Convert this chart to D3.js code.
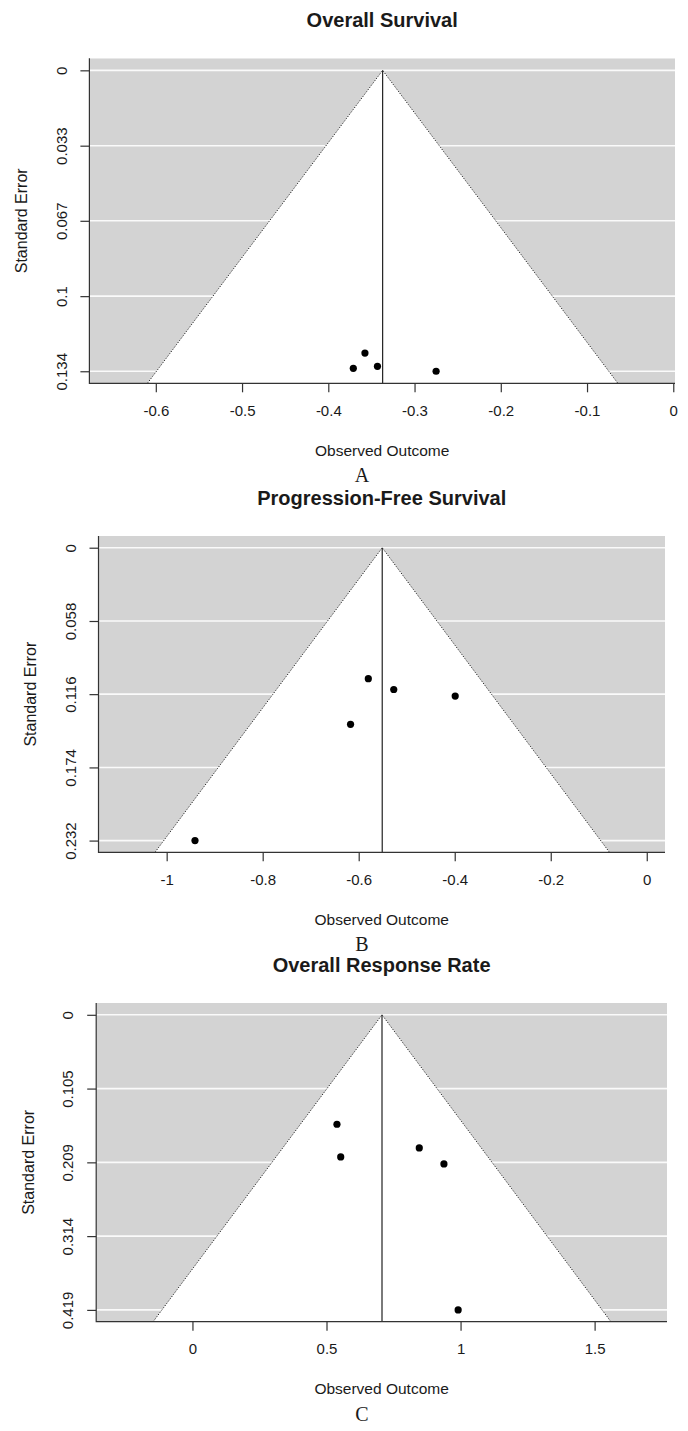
<!DOCTYPE html>
<html lang="en">
	<head>
		<meta charset="UTF-8" />
		<meta name="viewport" content="width=device-width, initial-scale=1.0" />
		<title>Funnel Plots</title>
		<style>
			body { margin: 0; background: #fff; }
			svg text { font-family: "Liberation Sans", Arial, sans-serif; fill: #1a1a1a; }
		</style>
	</head>
	<body>
		<div id="chart"></div>
		<script src="https://d3js.org/d3.v7.min.js"></script>
		<script>
			const width = 688;
			const height = 1431;

			// A - Overall Survival
			const osEstimate = -0.337;
			const osOutcome = [-0.3575, -0.371, -0.343, -0.275];
			const osSE = [0.1257, 0.1325, 0.1316, 0.1338];
			const osSETicks = [0, 0.0335, 0.0669, 0.1004, 0.1338];
			const osSELabels = ["0", "0.033", "0.067", "0.1", "0.134"];
			const osXTicks = [-0.6, -0.5, -0.4, -0.3, -0.2, -0.1, 0];
			const osXRange = [-0.677, 0.002];

			// B - Progression-Free Survival
			const pfsEstimate = -0.551;
			const pfsOutcome = [-0.58, -0.527, -0.399, -0.617, -0.941];
			const pfsSE = [0.1038, 0.1124, 0.1176, 0.14, 0.2322];
			const pfsSETicks = [0, 0.0581, 0.1161, 0.1742, 0.2322];
			const pfsSELabels = ["0", "0.058", "0.116", "0.174", "0.232"];
			const pfsXTicks = [-1, -0.8, -0.6, -0.4, -0.2, 0];
			const pfsXRange = [-1.142, 0.038];

			// C - Overall Response Rate
			const orrEstimate = 0.707;
			const orrOutcome = [0.539, 0.553, 0.846, 0.938, 0.991];
			const orrSE = [0.1553, 0.2017, 0.1889, 0.2116, 0.4188];
			const orrSETicks = [0, 0.1047, 0.2094, 0.3141, 0.4188];
			const orrSELabels = ["0", "0.105", "0.209", "0.314", "0.419"];
			const orrXTicks = [0, 0.5, 1, 1.5];
			const orrXRange = [-0.359, 1.77];

			const panels = [
				{ title: "Overall Survival", letter: "A", est: osEstimate, yi: osOutcome, sei: osSE,
					seTicks: osSETicks, seLabels: osSELabels, xTicks: osXTicks, xRange: osXRange,
					box: { left: 89.4, right: 675, top: 58.3, bottom: 383.3 } },
				{ title: "Progression-Free Survival", letter: "B", est: pfsEstimate, yi: pfsOutcome, sei: pfsSE,
					seTicks: pfsSETicks, seLabels: pfsSELabels, xTicks: pfsXTicks, xRange: pfsXRange,
					box: { left: 98.5, right: 665, top: 536, bottom: 852.3 } },
				{ title: "Overall Response Rate", letter: "C", est: orrEstimate, yi: orrOutcome, sei: orrSE,
					seTicks: orrSETicks, seLabels: orrSELabels, xTicks: orrXTicks, xRange: orrXRange,
					box: { left: 96.2, right: 667, top: 1003, bottom: 1321.7 } },
			];

			const svg = d3
				.select("#chart")
				.append("svg")
				.attr("width", width)
				.attr("height", height);

			panels.forEach(function (p, i) {
				const b = p.box;
				const maxSE = d3.max(p.seTicks);
				// R style 4% padding on the SE axis, reversed (0 on top)
				const y = d3
					.scaleLinear()
					.domain([-0.04 * maxSE, 1.04 * maxSE])
					.range([b.top, b.bottom]);
				const x = d3.scaleLinear().domain(p.xRange).range([b.left, b.right]);

				const g = svg.append("g");
				const clipId = "clip" + i;
				g.append("clipPath")
					.attr("id", clipId)
					.append("rect")
					.attr("x", b.left)
					.attr("y", b.top)
					.attr("width", b.right - b.left)
					.attr("height", b.bottom - b.top);

				const plot = g.append("g").attr("clip-path", "url(#" + clipId + ")");

				plot.append("rect")
					.attr("x", b.left)
					.attr("y", b.top)
					.attr("width", b.right - b.left)
					.attr("height", b.bottom - b.top)
					.attr("fill", "#d3d3d3");

				plot.selectAll(".hline")
					.data(p.seTicks)
					.enter()
					.append("line")
					.attr("x1", b.left)
					.attr("x2", b.right)
					.attr("y1", function (d) { return y(d); })
					.attr("y2", function (d) { return y(d); })
					.attr("stroke", "#fafafa")
					.attr("stroke-width", 1.6);

				const seBottom = y.domain()[1];
				const funnel = [
					[p.est - 1.96 * seBottom, seBottom],
					[p.est, 0],
					[p.est + 1.96 * seBottom, seBottom],
				];
				const line = d3
					.line()
					.x(function (d) { return x(d[0]); })
					.y(function (d) { return y(d[1]); });

				plot.append("path")
					.attr("d", line(funnel) + "Z")
					.attr("fill", "#fff");

				plot.append("path")
					.attr("d", line(funnel))
					.attr("fill", "none")
					.attr("stroke", "#222")
					.attr("stroke-width", 1)
					.attr("stroke-dasharray", "1.2,1.6");

				plot.append("line")
					.attr("x1", x(p.est))
					.attr("x2", x(p.est))
					.attr("y1", y(0))
					.attr("y2", b.bottom)
					.attr("stroke", "#222")
					.attr("stroke-width", 1.2);

				plot.selectAll(".pt")
					.data(p.yi)
					.enter()
					.append("circle")
					.attr("cx", function (d) { return x(d); })
					.attr("cy", function (d, j) { return y(p.sei[j]); })
					.attr("r", 3.6)
					.attr("fill", "#000");

				// bty = "l" box
				g.append("path")
					.attr("d", "M" + b.left + "," + b.top + "V" + b.bottom + "H" + b.right)
					.attr("fill", "none")
					.attr("stroke", "#333")
					.attr("stroke-width", 1.2);

				// x axis
				const xAxis = d3
					.axisBottom(x)
					.tickValues(p.xTicks)
					.tickSize(9)
					.tickPadding(13)
					.tickFormat(d3.format("~g"));
				const xg = g.append("g")
					.attr("transform", "translate(0," + b.bottom + ")")
					.call(xAxis);
				xg.select(".domain").remove();
				xg.selectAll(".tick line").attr("stroke", "#333").attr("stroke-width", 1.2);
				xg.selectAll(".tick text")
					.attr("fill", "#1a1a1a")
					.style("font-size", "15px")
					.style("font-family", "'Liberation Sans', Arial, sans-serif")
					.text(function (d) { return d3.format("~g")(d).replace("−", "-"); });

				// y axis
				const yAxis = d3
					.axisLeft(y)
					.tickValues(p.seTicks)
					.tickSize(9)
					.tickFormat(function (d, j) { return p.seLabels[j]; });
				const yg = g.append("g")
					.attr("transform", "translate(" + b.left + ",0)")
					.call(yAxis);
				yg.select(".domain").remove();
				yg.selectAll(".tick line").attr("stroke", "#333").attr("stroke-width", 1.2);
				yg.selectAll(".tick text")
					.attr("fill", "#1a1a1a")
					.attr("x", null)
					.attr("text-anchor", "middle")
					.attr("transform", "translate(-28,0) rotate(-90)")
					.attr("dy", "0.35em")
					.style("font-size", "15px")
					.style("font-family", "'Liberation Sans', Arial, sans-serif");

				const cx = (b.left + b.right) / 2;

				g.append("text")
					.attr("x", cx)
					.attr("y", b.top - 38)
					.attr("dy", "0.35em")
					.attr("text-anchor", "middle")
					.style("font-size", "20px")
					.style("font-weight", "bold")
					.text(p.title);

				g.append("text")
					.attr("x", cx)
					.attr("y", b.bottom + 67)
					.attr("dy", "0.35em")
					.attr("text-anchor", "middle")
					.style("font-size", "15.5px")
					.text("Observed Outcome");

				g.append("text")
					.attr("transform", "translate(" + (b.left - 68) + "," + (b.top + b.bottom) / 2 + ") rotate(-90)")
					.attr("dy", "0.35em")
					.attr("text-anchor", "middle")
					.style("font-size", "16px")
					.text("Standard Error");

				g.append("text")
					.attr("x", 362)
					.attr("y", b.bottom + 92)
					.attr("dy", "0.35em")
					.attr("text-anchor", "middle")
					.style("font-size", "20px")
					.style("font-family", "'Liberation Serif', 'Times New Roman', serif")
					.text(p.letter);
			});
		</script>
	</body>
</html>
